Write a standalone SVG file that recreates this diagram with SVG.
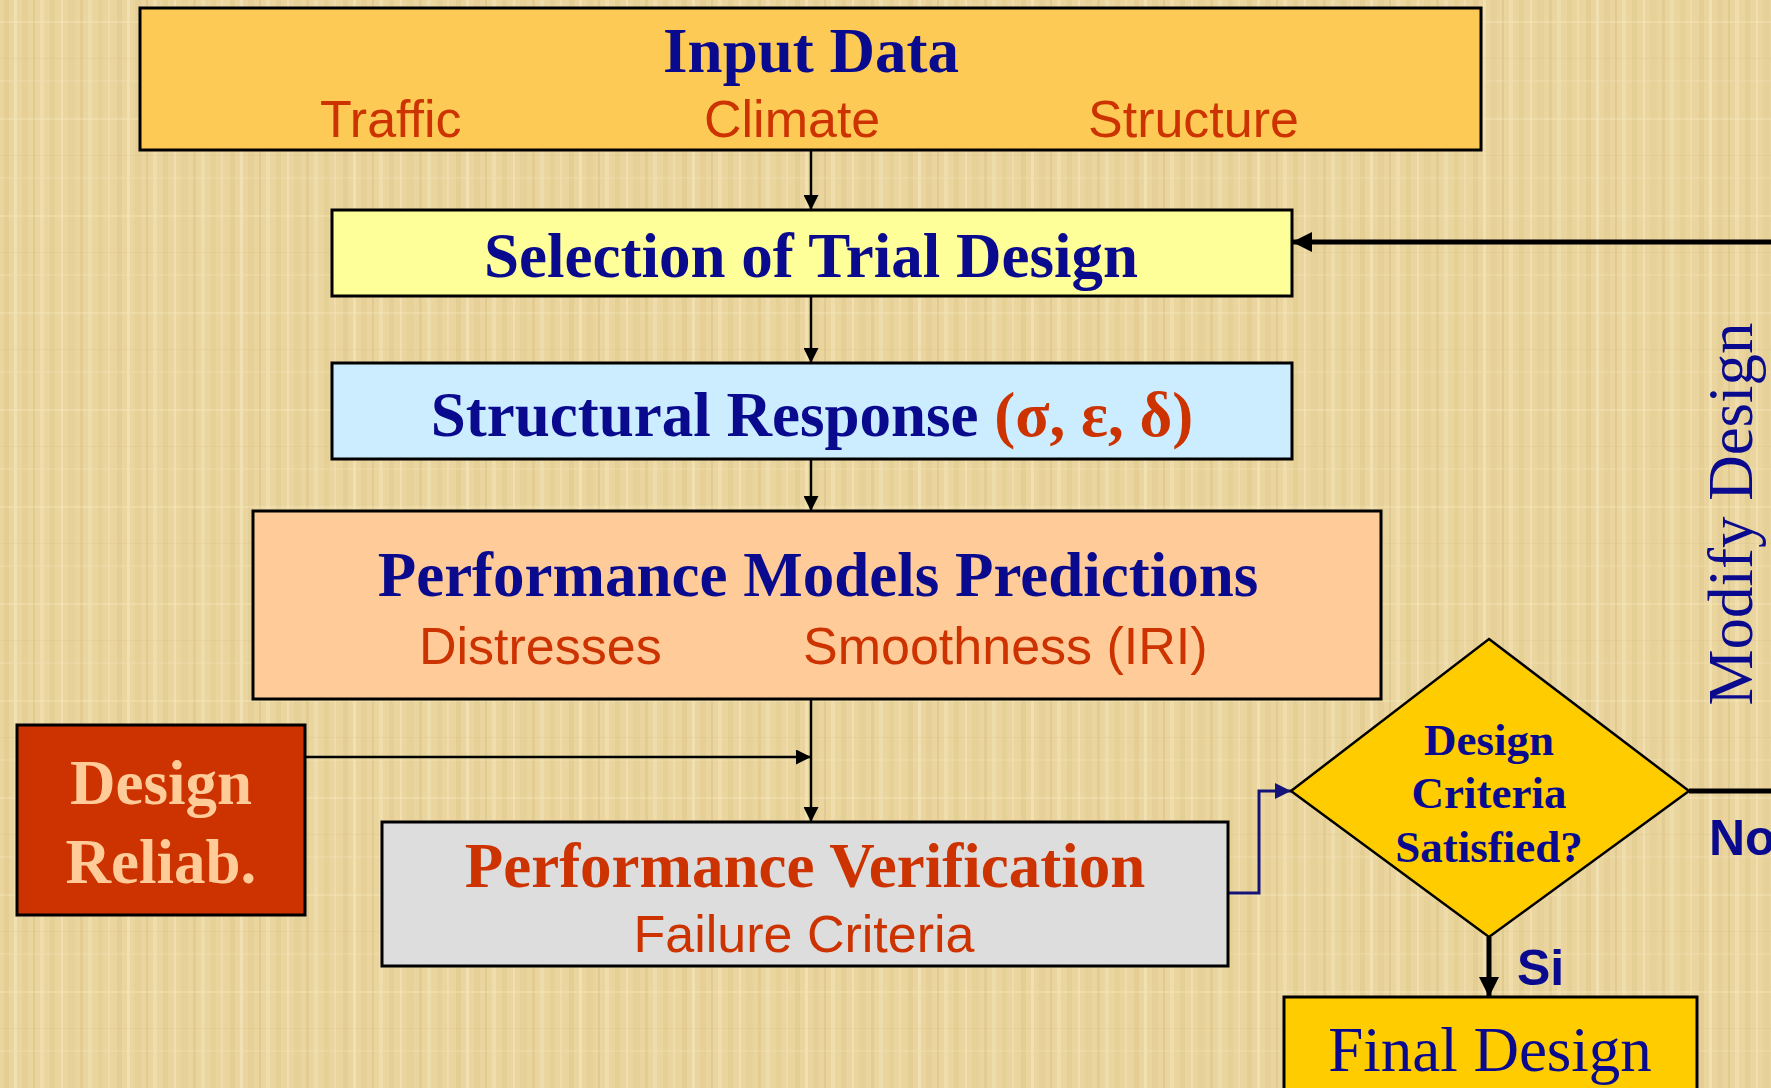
<svg xmlns="http://www.w3.org/2000/svg" width="1771" height="1088" viewBox="0 0 1771 1088">
  <defs>
    <!-- woven parchment backdrop: soft vertical fibres over a cream base -->
    <pattern id="weave" width="113" height="97" patternUnits="userSpaceOnUse">
      <rect width="113" height="97" fill="#EAD59F"/>
      <rect x="4" width="5" height="97" fill="#D8BE7C" opacity="0.35"/>
      <rect x="14" width="3" height="97" fill="#F6E8BE" opacity="0.55"/>
      <rect x="22" width="6" height="97" fill="#DEC689" opacity="0.3"/>
      <rect x="33" width="2" height="97" fill="#CFB271" opacity="0.3"/>
      <rect x="40" width="4" height="97" fill="#F4E5B9" opacity="0.5"/>
      <rect x="50" width="5" height="97" fill="#DAC07E" opacity="0.3"/>
      <rect x="61" width="2" height="97" fill="#F7EAC3" opacity="0.5"/>
      <rect x="68" width="7" height="97" fill="#E0C98D" opacity="0.3"/>
      <rect x="80" width="3" height="97" fill="#D2B673" opacity="0.3"/>
      <rect x="88" width="4" height="97" fill="#F5E7BC" opacity="0.45"/>
      <rect x="98" width="5" height="97" fill="#DCC383" opacity="0.3"/>
      <rect x="108" width="2" height="97" fill="#F3E3B5" opacity="0.5"/>
      <rect y="21" width="113" height="2" fill="#F5E6BB" opacity="0.35"/>
      <rect y="58" width="113" height="1" fill="#D4B876" opacity="0.2"/>
      <rect y="80" width="113" height="2" fill="#F3E3B4" opacity="0.3"/>
    </pattern>
    <marker id="ah" viewBox="0 0 10 10" refX="10" refY="5" markerWidth="15" markerHeight="15" markerUnits="userSpaceOnUse" orient="auto">
      <path d="M0,0 L10,5 L0,10 z" fill="#000"/>
    </marker>
    <marker id="ahBig" viewBox="0 0 10 10" refX="10" refY="5" markerWidth="20" markerHeight="20" markerUnits="userSpaceOnUse" orient="auto">
      <path d="M0,0 L10,5 L0,10 z" fill="#000"/>
    </marker>
    <marker id="ahNavy" viewBox="0 0 10 10" refX="10" refY="5" markerWidth="16" markerHeight="16" markerUnits="userSpaceOnUse" orient="auto">
      <path d="M0,0 L10,5 L0,10 z" fill="#141478"/>
    </marker>
  </defs>
  <style>
    .box { stroke: #000; stroke-width: 3; }
    .head { font-family: "Liberation Serif", "Times New Roman", serif; font-weight: bold; font-size: 63px; fill: #0A0A8E; text-anchor: middle; }
    .sub { font-family: "Liberation Sans", Arial, sans-serif; font-size: 52px; fill: #CC3300; }
    .red { fill: #CC3300; }
    .ask { font-family: "Liberation Serif", "Times New Roman", serif; font-weight: bold; font-size: 45px; fill: #0A0A8E; text-anchor: middle; }
    .plain { font-family: "Liberation Serif", "Times New Roman", serif; font-size: 63px; fill: #0A0A8E; text-anchor: middle; }
    .tag { font-family: "Liberation Sans", Arial, sans-serif; font-weight: bold; font-size: 50px; fill: #0A0A8E; }
    .thin { stroke: #000; stroke-width: 2.5; fill: none; }
    .thick { stroke: #000; stroke-width: 5; fill: none; }
  </style>

  <rect width="1771" height="1088" fill="url(#weave)"/>

  <g id="connectors">
    <line class="thin" x1="811" y1="150" x2="811" y2="210" marker-end="url(#ah)"/>
    <line class="thin" x1="811" y1="296" x2="811" y2="363" marker-end="url(#ah)"/>
    <line class="thin" x1="811" y1="459" x2="811" y2="511" marker-end="url(#ah)"/>
    <line class="thin" x1="811" y1="699" x2="811" y2="822" marker-end="url(#ah)"/>
    <line class="thin" x1="305" y1="757" x2="811" y2="757" marker-end="url(#ah)"/>
    <polyline points="1228,893 1259,893 1259,791 1291,791" fill="none" stroke="#141478" stroke-width="3" marker-end="url(#ahNavy)"/>
    <line class="thick" x1="1489" y1="937" x2="1489" y2="997" marker-end="url(#ahBig)"/>
    <line class="thick" x1="1689" y1="791" x2="1771" y2="791"/>
    <line class="thick" x1="1771" y1="242" x2="1292" y2="242" marker-end="url(#ahBig)"/>
  </g>

  <g id="input-data">
    <rect class="box" x="140" y="8" width="1341" height="142" fill="#FDCB55"/>
    <text class="head" x="811" y="72">Input Data</text>
    <text class="sub" x="320" y="137">Traffic</text>
    <text class="sub" x="704" y="137">Climate</text>
    <text class="sub" x="1088" y="137">Structure</text>
  </g>

  <g id="trial-design">
    <rect class="box" x="332" y="210" width="960" height="86" fill="#FFFF99"/>
    <text class="head" x="811" y="277">Selection of Trial Design</text>
  </g>

  <g id="structural-response">
    <rect class="box" x="332" y="363" width="960" height="96" fill="#CCECFF"/>
    <text class="head" x="812" y="436">Structural Response <tspan class="red">(σ, ε, δ)</tspan></text>
  </g>

  <g id="performance-models">
    <rect class="box" x="253" y="511" width="1128" height="188" fill="#FFCC99"/>
    <text class="head" x="818" y="596">Performance Models Predictions</text>
    <text class="sub" x="419" y="664">Distresses</text>
    <text class="sub" x="803" y="664">Smoothness (IRI)</text>
  </g>

  <g id="design-reliability">
    <rect class="box" x="17" y="725" width="288" height="190" fill="#CC3300"/>
    <text class="head" x="161" y="804" style="fill:#FFCC99">Design</text>
    <text class="head" x="161" y="883" style="fill:#FFCC99">Reliab.</text>
  </g>

  <g id="performance-verification">
    <rect class="box" x="382" y="822" width="846" height="144" fill="#DDDDDD"/>
    <text class="head" x="805" y="887" style="fill:#CC3300">Performance Verification</text>
    <text class="sub" x="804" y="952" text-anchor="middle">Failure Criteria</text>
  </g>

  <g id="criteria-check">
    <polygon points="1489,639 1689,791 1489,937 1291,791" fill="#FFCC00" stroke="#000" stroke-width="2.5"/>
    <text class="ask" x="1489" y="755">Design</text>
    <text class="ask" x="1489" y="808">Criteria</text>
    <text class="ask" x="1489" y="862">Satisfied?</text>
    <text class="tag" x="1517" y="985">Si</text>
    <text class="tag" x="1709" y="855">No</text>
  </g>

  <g id="final-design">
    <rect class="box" x="1284" y="997" width="413" height="100" fill="#FFCC00"/>
    <text class="plain" x="1490" y="1071">Final Design</text>
  </g>

  <g id="modify-design">
    <text class="plain" transform="translate(1752,514) rotate(-90)" x="0" y="0">Modify Design</text>
  </g>
</svg>
